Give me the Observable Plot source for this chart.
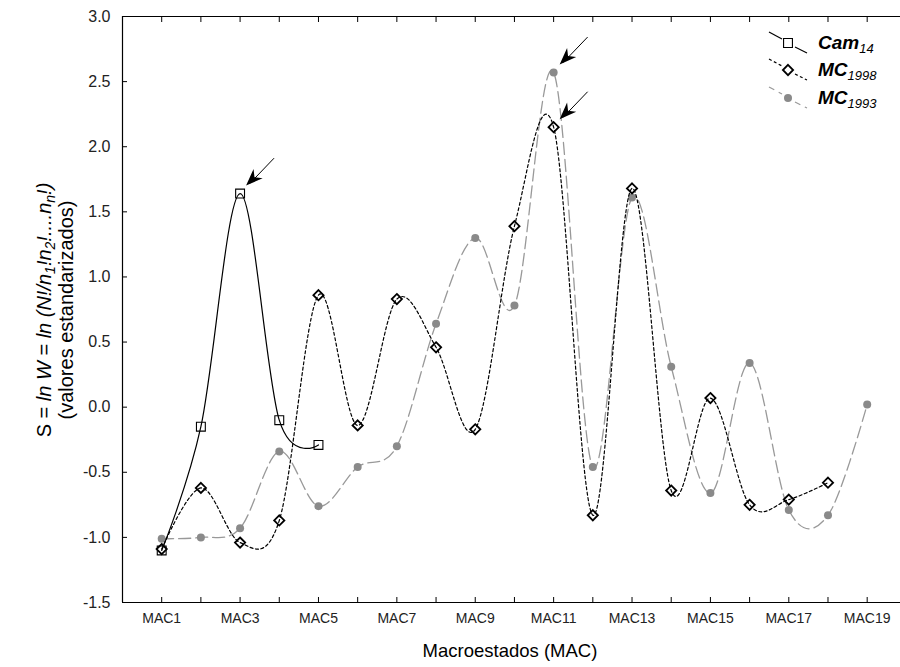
<!DOCTYPE html>
<html><head><meta charset="utf-8">
<script src="https://cdn.jsdelivr.net/npm/d3@7"></script>
<script src="https://cdn.jsdelivr.net/npm/@observablehq/plot@0.6"></script>
<style>
body{margin:0;background:#fff;}
#chart{position:relative;width:900px;height:667px;}
</style>
</head><body><div id="chart"></div>
<script>
// ---- data ----
const macs = [1,2,3,4,5,6,7,8,9,10,11,12,13,14,15,16,17,18,19];
const labelMacs = [1,3,5,7,9,11,13,15,17,19];
const yTicks = [-1.5,-1.0,-0.5,0.0,0.5,1.0,1.5,2.0,2.5,3.0];
const cam14  = [-1.10,-0.15,1.64,-0.10,-0.29];
const mc1998 = [-1.09,-0.62,-1.04,-0.87,0.86,-0.14,0.83,0.46,-0.17,1.39,2.15,-0.83,1.68,-0.64,0.07,-0.75,-0.71,-0.58];
const mc1993 = [-1.01,-1.00,-0.93,-0.34,-0.76,-0.46,-0.30,0.64,1.30,0.78,2.57,-0.46,1.61,0.31,-0.66,0.34,-0.79,-0.83,0.02];
const arrowTargets = [
  {series:"Cam14", mac:3},
  {series:"MC1993", mac:11},
  {series:"MC1998", mac:11}
];

const valuesBy = {Cam14: cam14, MC1998: mc1998, MC1993: mc1993};
const rows = vals => vals.map((v,i)=>({mac:macs[i], v}));
const camRows = rows(cam14), r98 = rows(mc1998), r93 = rows(mc1993);
const arrowRows = arrowTargets.map(a=>({mac:a.mac, v:valuesBy[a.series][a.mac-1]}));

const FONT = "'Liberation Sans', Arial, sans-serif";
const GRAY = "#8a8a8a";

const dart = {draw(ctx, size){
  const r = Math.sqrt(size/Math.PI);
  ctx.moveTo(0,0); ctx.lineTo(0.38*r,-r); ctx.lineTo(0,-0.7*r); ctx.lineTo(-0.38*r,-r); ctx.closePath();
}};

const plot = Plot.plot({
  width: 900, height: 667,
  marginLeft: 122, marginRight: 0, marginTop: 16, marginBottom: 65,
  style: {fontFamily: FONT, background: "white", overflow: "visible"},
  x: {domain: [0, 19.85]},
  y: {domain: [-1.5, 3.0]},
  marks: [
    Plot.axisY({ticks: yTicks, tickSize: -5, tickFormat: () => "", label: null, stroke:"black"}),
    Plot.axisY({ticks: yTicks, tickSize: 0, tickPadding: 12, tickFormat: d => d.toFixed(1), label: null, fontSize: 16, fill: "#222"}),
    Plot.axisX({ticks: macs, tickSize: -5, tickFormat: () => "", label: null, stroke:"black"}),
    Plot.axisX({anchor: "top", ticks: macs, tickSize: -5, tickFormat: () => "", label: null, stroke:"black"}),
    Plot.axisX({ticks: labelMacs, tickSize: 0, tickPadding: 11, tickFormat: d => "MAC" + d, label: null, fontSize: 14, fill: "#222"}),
    Plot.ruleY([-1.5, 3.0], {stroke: "black", strokeWidth: 1.2}),
    Plot.ruleX([0], {stroke: "black", strokeWidth: 1.2}),
    // MC1993
    Plot.line(r93, {x:"mac", y:"v", curve:"cardinal", stroke: "#999", strokeWidth: 1.3, strokeDasharray: "12,5"}),
    Plot.dot(r93, {x:"mac", y:"v", r: 4, fill: GRAY, stroke: "none"}),
    // MC1998
    Plot.line(r98, {x:"mac", y:"v", curve:"cardinal", stroke: "black", strokeWidth: 1.2, strokeDasharray: "3,2.5"}),
    Plot.dot(r98, {x:"mac", y:"v", symbol: "diamond2", r: 4.6, fill: "none", stroke: "black", strokeWidth: 1.8}),
    // Cam14
    Plot.line(camRows, {x:"mac", y:"v", curve:"cardinal", stroke: "black", strokeWidth: 1.2}),
    Plot.dot(camRows, {x:"mac", y:"v", symbol: "square", r: 5, fill: "none", stroke: "black", strokeWidth: 1.1}),
    // arrows
    Plot.arrow(arrowRows, {x1: d => d.mac + 0.86, y1: d => d.v + 0.27, x2: "mac", y2: "v", insetEnd: 14, headLength: 0, stroke: "black", strokeWidth: 1}),
    Plot.dot(arrowRows, {x:"mac", y:"v", symbol: dart, r: 17, fill: "black", stroke: "none", rotate: 45, dx: 6, dy: -8})
  ]
});
document.getElementById("chart").appendChild(plot);

const svg = d3.select(plot);
// y-axis label
const yl = svg.append("g").attr("font-family", FONT).attr("font-size", 20).attr("fill", "black").attr("text-anchor","middle");
const t1 = yl.append("text").attr("transform", "translate(51,310) rotate(-90)");
t1.append("tspan").text("S = ");
t1.append("tspan").attr("font-style","italic").text("ln W");
t1.append("tspan").text(" = ");
t1.append("tspan").attr("font-style","italic").text("ln (N!/n");
t1.append("tspan").attr("font-style","italic").attr("font-size",14).attr("dy",4).text("1");
t1.append("tspan").attr("font-style","italic").attr("dy",-4).text("!n");
t1.append("tspan").attr("font-style","italic").attr("font-size",14).attr("dy",4).text("2");
t1.append("tspan").attr("font-style","italic").attr("dy",-4).text("!....n");
t1.append("tspan").attr("font-style","italic").attr("font-size",14).attr("dy",4).text("n");
t1.append("tspan").attr("font-style","italic").attr("dy",-4).text("!)");
yl.append("text").attr("transform", "translate(73,310) rotate(-90)").text("(valores estandarizados)");

// x-axis title
svg.append("text").attr("x", 510).attr("y", 657).attr("text-anchor","middle")
  .attr("font-family", FONT).attr("font-size", 18.5).attr("fill","black").text("Macroestados (MAC)");

// legend
const leg = svg.append("g").attr("font-family", FONT).attr("text-anchor","start");
const items = [
  {name:"Cam", sub:"14", y:43, stroke:"black", dash:null, sym:d3.symbolSquare, r:5, fill:"none", sstroke:"black", sw:1.1},
  {name:"MC", sub:"1998", y:70, stroke:"black", dash:"3,2.5", sym:d3.symbolDiamond2, r:4.6, fill:"none", sstroke:"black", sw:1.8},
  {name:"MC", sub:"1993", y:98, stroke:"#999", dash:"6,5", sym:d3.symbolCircle, r:4, fill:GRAY, sstroke:"none", sw:0}
];
items.forEach(it => {
  const g = leg.append("g");
  g.append("line").attr("x1",769).attr("y1",it.y-11).attr("x2",782).attr("y2",it.y-4)
    .attr("stroke",it.stroke).attr("stroke-width",1.2).attr("stroke-dasharray",it.dash);
  g.append("line").attr("x1",795).attr("y1",it.y+4).attr("x2",807).attr("y2",it.y+10)
    .attr("stroke",it.stroke).attr("stroke-width",1.2).attr("stroke-dasharray",it.dash);
  g.append("path").attr("transform",`translate(788,${it.y})`)
    .attr("d", d3.symbol(it.sym, Math.PI*it.r*it.r)())
    .attr("fill", it.fill).attr("stroke", it.sstroke).attr("stroke-width", it.sw);
  const t = g.append("text").attr("x",818).attr("y",it.y+6).attr("font-size",19)
    .attr("font-weight","bold").attr("font-style","italic").attr("fill","black");
  t.append("tspan").text(it.name);
  t.append("tspan").attr("font-size",13).attr("font-weight","normal").attr("dy",4).text(it.sub);
});
</script>
</body></html>
